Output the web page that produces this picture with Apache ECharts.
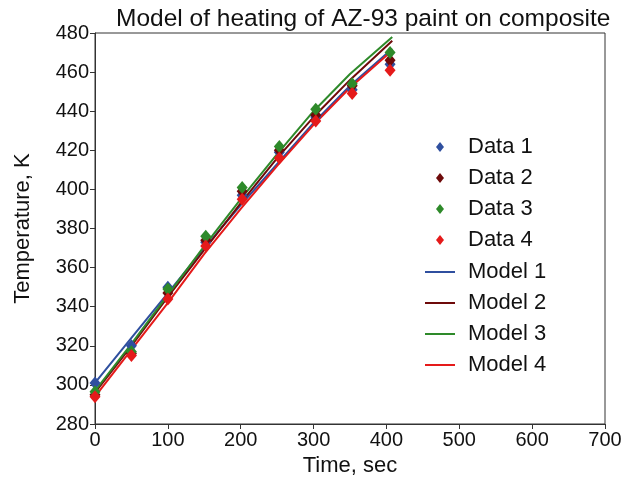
<!DOCTYPE html>
<html><head><meta charset="utf-8">
<script src="https://cdn.jsdelivr.net/npm/echarts@6/dist/echarts.min.js"></script>
<style>html,body{margin:0;padding:0;background:#fff}#c{width:626px;height:488px}</style>
</head><body><div id="c"></div>
<script>
var times = [0, 50, 100, 152, 202, 253, 303, 353, 405];
var data1 = [301, 320, 350, 373, 397, 419, 437, 451, 464];
var data2 = [295, 316, 347, 374, 399, 420, 438, 453, 466];
var data3 = [296.5, 317, 349, 376, 401, 422, 441, 454, 470];
var data4 = [294, 315, 344, 371, 395, 416, 435, 449, 461];

var modelTimes = [0, 50, 100, 150, 200, 250, 300, 350, 408];
var model1 = [301, 324, 347, 370, 392, 413, 434, 453, 472];
var model2 = [296, 320, 345, 369, 393, 416, 437, 456, 476];
var model3 = [297, 321, 346, 371, 395, 418, 440, 459, 478];
var model4 = [294, 318, 342, 367, 390, 412, 433, 452, 471];

var dataNames = ['Data 1', 'Data 2', 'Data 3', 'Data 4'];
var modelNames = ['Model 1', 'Model 2', 'Model 3', 'Model 4'];
var colors = ['#2f4f9f', '#6e0a0a', '#2e8a2a', '#e51a1a'];

function pairs(xs, ys) { return xs.map(function (x, i) { return [x, ys[i]]; }); }

var dataSets = [data1, data2, data3, data4];
var modelSets = [model1, model2, model3, model4];
var series = [];
modelSets.forEach(function (m, i) {
  series.push({ name: modelNames[i], type: 'line', data: pairs(modelTimes, m), symbol: 'none',
    lineStyle: { color: colors[i], width: 2 }, itemStyle: { color: colors[i] }, z: 2 });
});
dataSets.forEach(function (d, i) {
  series.push({ name: dataNames[i], type: 'scatter', data: pairs(times, d), symbol: 'diamond',
    symbolSize: [11, 13], itemStyle: { color: colors[i], opacity: 1 }, z: 3 });
});

var font = 'Liberation Sans, Arial, sans-serif';
var chart = echarts.init(document.getElementById('c'));
chart.setOption({
  animation: false,
  backgroundColor: '#fff',
  textStyle: { fontFamily: font },
  title: { text: 'Model of heating of AZ-93 paint on composite', left: 111, top: 2,
    textStyle: { fontFamily: font, fontSize: 24.5, fontWeight: 'normal', color: '#111' } },
  grid: { left: 95, right: 21, top: 33, bottom: 64, show: true, borderColor: '#333', borderWidth: 1 },
  legend: [
    { data: dataNames.map(function (n) { return { name: n, icon: 'diamond' }; }),
      orient: 'vertical', left: 431, top: 131, itemWidth: 8, itemHeight: 10, itemGap: 9,
      textStyle: { fontFamily: font, fontSize: 22, color: '#111', padding: [0, 0, 0, 19] } },
    { data: modelNames.map(function (n) { return { name: n, icon: 'path://M0,0H30V2H0Z' }; }),
      orient: 'vertical', left: 420, top: 256, itemWidth: 30, itemHeight: 10, itemGap: 9,
      textStyle: { fontFamily: font, fontSize: 22, color: '#111', padding: [0, 0, 0, 8] } }
  ],
  xAxis: { type: 'value', min: 0, max: 700, interval: 100, name: 'Time, sec', nameLocation: 'middle', nameGap: 30,
    nameTextStyle: { fontFamily: font, fontSize: 22, color: '#111' },
    axisLine: { lineStyle: { color: '#333' } }, axisTick: { length: 5, lineStyle: { color: '#333' } },
    axisLabel: { fontFamily: font, fontSize: 20, color: '#111', margin: 6 }, splitLine: { show: false } },
  yAxis: { type: 'value', min: 280, max: 480, interval: 20, name: 'Temperature, K', nameLocation: 'middle', nameGap: 61,
    nameTextStyle: { fontFamily: font, fontSize: 22, color: '#111' },
    axisLine: { show: true, lineStyle: { color: '#333' } }, axisTick: { show: true, length: 5, lineStyle: { color: '#333' } },
    axisLabel: { fontFamily: font, fontSize: 20, color: '#111', margin: 6 }, splitLine: { show: false } },
  series: series
});
</script></body></html>
